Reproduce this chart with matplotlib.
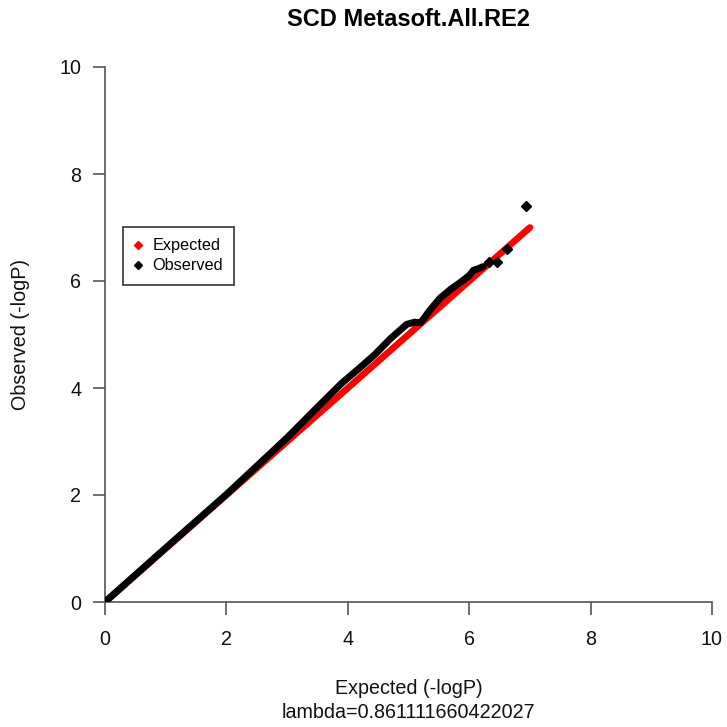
import matplotlib
matplotlib.use('Agg')
import matplotlib.pyplot as plt
from matplotlib.lines import Line2D

plt.rcParams['font.family'] = ['Liberation Sans', 'DejaVu Sans']

# Data
expected_x = [0, 7]
expected_y = [0, 7]

obs_x = [0, 1.0, 2.0, 2.5, 3.0, 3.5, 3.9, 4.2, 4.45, 4.7, 4.97, 5.1, 5.2, 5.35, 5.52, 5.7, 5.85, 6.0, 6.07, 6.15, 6.23]
obs_y = [0, 1.01, 2.01, 2.54, 3.07, 3.64, 4.09, 4.38, 4.63, 4.92, 5.19, 5.23, 5.22, 5.45, 5.68, 5.85, 5.97, 6.1, 6.2, 6.23, 6.27]
tail_x = [6.33, 6.46, 6.63, 6.94]
tail_y = [6.36, 6.36, 6.59, 7.41]

title = 'SCD Metasoft.All.RE2'
lam = 0.861111660422027
ticks = [0, 2, 4, 6, 8, 10]

fig = plt.figure(figsize=(7.27, 7.27), dpi=100)
ax = fig.add_axes([105/727, 1 - 602/727, 607/727, 535/727])

ax.plot(expected_x, expected_y, color='red', lw=4.8, solid_capstyle='round', zorder=2)
ax.plot(obs_x, obs_y, color='black', lw=5, solid_capstyle='round', solid_joinstyle='round', zorder=3)
ax.plot(tail_x, tail_y, 'D', color='black', ms=5, zorder=3)

ax.set_xlim(0, 10)
ax.set_ylim(0, 10)
ax.set_xticks(ticks)
ax.set_yticks(ticks)
for s in ['top', 'right']:
    ax.spines[s].set_visible(False)
for s in ['left', 'bottom']:
    ax.spines[s].set_color('#555555')
    ax.spines[s].set_linewidth(1.2)
ax.tick_params(direction='out', length=9, width=1.2, color='#555555', labelsize=14.2, labelcolor='#111111')
ax.tick_params(axis='x', pad=11)
ax.tick_params(axis='y', pad=8)

fig.text(408.5/727, 1 - 20/727, title, ha='center', va='center', fontsize=17, fontweight='bold')
fig.text(408.5/727, 1 - 688/727, 'Expected (-logP)', ha='center', va='center', fontsize=14.2, color='#111111')
fig.text(408.5/727, 1 - 713/727, 'lambda=' + str(lam), ha='center', va='center', fontsize=14.2, color='#111111')
fig.text(21/727, 1 - 335/727, 'Observed (-logP)', ha='center', va='center', rotation=90, fontsize=14.2, color='#111111')

handles = [Line2D([], [], marker='D', color='red', ls='none', ms=4),
           Line2D([], [], marker='D', color='black', ls='none', ms=4)]
leg = ax.legend(handles, ['Expected', 'Observed'], loc='upper left',
                bbox_to_anchor=(123/727, 1 - 227/727), bbox_transform=fig.transFigure,
                fancybox=False, edgecolor='#333333', framealpha=1, fontsize=11.7,
                handlelength=0.5, handletextpad=0.6, labelspacing=0.3,
                borderpad=0.7, borderaxespad=0)
leg.get_frame().set_linewidth(1.2)

fig.savefig('out.png', dpi=100)
